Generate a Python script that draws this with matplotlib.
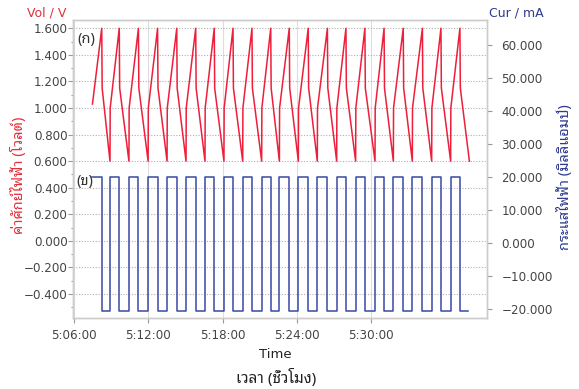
import matplotlib
matplotlib.use('Agg')
import matplotlib.pyplot as plt
from matplotlib import font_manager
from matplotlib.ft2font import FT2Font
from matplotlib.ticker import MultipleLocator, FixedLocator, FuncFormatter

# ---------------- data (seconds after 5:06:00) ----------------
t_start = 89
v_start = 1.03
peak_t = [134, 219, 312, 405, 498, 590, 680, 771, 863, 954,
          1044, 1136, 1229, 1319, 1411, 1504, 1597, 1690, 1780, 1872]
trough_t = [174, 266, 359, 451, 543, 635, 727, 818, 910, 996,
            1088, 1180, 1274, 1366, 1460, 1549, 1641, 1735, 1827, 1918]
v_max = 1.60
v_min = 0.60
v_after_drop = 1.15
v_after_jump = 1.00
i_charge = 19.9
i_discharge = -20.7
x_tick_t = [0, 360, 720, 1080, 1440]
base_h, base_m = 5, 6

# ---------------- Thai-capable font ----------------
def find_thai():
    found = []
    for f in font_manager.fontManager.ttflist:
        try:
            cmap = FT2Font(f.fname).get_charmap()
        except Exception:
            continue
        if 0x0E04 in cmap and 0x0E48 in cmap and 0x0E15 in cmap:
            if f.name not in found:
                found.append(f.name)
    pref = ['Noto Sans Thai Looped', 'Noto Sans Thai', 'Noto Sans Thai UI', 'IBM Plex Sans Thai Looped', 'IBM Plex Sans Thai']
    found.sort(key=lambda n: pref.index(n) if n in pref else 99)
    return found

thai = find_thai()
plt.rcParams['font.family'] = ['DejaVu Sans'] + thai
plt.rcParams['axes.unicode_minus'] = True
THAI_FAM = thai[:1] + ['DejaVu Sans']

RED = '#ee1f3b'
BLUE = '#3949a3'
RED_T = '#e2303c'
BLUE_T = '#2e3b8f'
GRAY = '#444444'
SPINE = '#cccccc'

W, H = 579, 389
fig = plt.figure(figsize=(W / 100, H / 100), dpi=100)
ax = fig.add_axes([73.3 / W, 1 - 318.3 / H, (486.7 - 73.3) / W, (318.3 - 20) / H])
ax2 = ax.twinx()

# voltage trace
vt = [t_start]
vv = [v_start]
n = len(peak_t)
for i in range(n):
    vt += [peak_t[i], peak_t[i] + 2, trough_t[i]]
    vv += [v_max, v_after_drop, v_min]
    if i < n - 1:
        vt += [trough_t[i] + 1]
        vv += [v_after_jump]
ax.plot(vt, vv, color=RED, lw=1.1, zorder=3)

# current trace
ct = [t_start]
cv = [i_charge]
for i in range(n):
    ct += [peak_t[i], peak_t[i]]
    cv += [i_charge, i_discharge]
    ct += [trough_t[i] - (5 if i == n - 1 else 0)]
    cv += [i_discharge]
    if i < n - 1:
        ct += [trough_t[i]]
        cv += [i_charge]
ax2.plot(ct, cv, color=BLUE, lw=1.1, zorder=3)

ax.set_xlim(-4, 2002)
ax.set_ylim(-0.583, 1.6625)
ax2.set_ylim(-22.82, 67.58)

ax.xaxis.set_major_locator(FixedLocator(x_tick_t))
def tfmt(x, pos):
    s = int(round(x))
    m = base_m + s // 60
    h = base_h + m // 60
    m = m % 60
    return f'{h}:{m:02d}:{s % 60:02d}'
ax.xaxis.set_major_formatter(FuncFormatter(tfmt))

def nfmt(v, p):
    if abs(v) < 1e-9:
        return '0.000'
    return f'{v:.3f}'.replace('-', '\u2212')

ax.yaxis.set_major_locator(MultipleLocator(0.2))
ax.yaxis.set_minor_locator(MultipleLocator(0.1))
ax.yaxis.set_major_formatter(FuncFormatter(nfmt))
ax2.yaxis.set_major_locator(MultipleLocator(10))
ax2.yaxis.set_major_formatter(FuncFormatter(nfmt))

ax.grid(axis='y', which='major', color='#b0b0b0', linestyle=(0, (1, 1.5)), lw=0.8)
ax.grid(axis='x', which='major', color='#dddddd', linestyle='-', lw=0.8)
ax.set_axisbelow(True)

for a in (ax, ax2):
    for s in a.spines.values():
        s.set_color(SPINE)
        s.set_linewidth(1.0)

ax.tick_params(axis='y', which='major', length=3.6, width=0.8, color='#999999', pad=0.5, labelsize=8.6, labelcolor=GRAY)
ax.tick_params(axis='y', which='minor', length=1.8, width=0.8, color='#999999')
ax.tick_params(axis='x', which='major', length=3.6, width=0.8, color='#999999', pad=4, labelsize=8.6, labelcolor=GRAY)
ax2.tick_params(axis='y', which='major', length=3.6, width=0.8, color='#999999', pad=7, labelsize=8.6, labelcolor=GRAY)

def ftext(x, y, s, **kw):
    fig.text(x / W, 1 - y / H, s, **kw)

ftext(47, 13, 'Vol / V', color=RED_T, fontsize=9, ha='center', va='center')
ftext(516, 13, 'Cur / mA', color=BLUE_T, fontsize=9, ha='center', va='center')
ftext(19, 175, 'ค่าศักย์ไฟฟ้า (โวลต์)', color=RED_T, fontsize=10.5, ha='center', va='center',
      rotation=90, family=THAI_FAM)
ftext(565, 177, 'กระแสไฟฟ้า (มิลลิแอมป์)', color=BLUE_T, fontsize=10.5, ha='center', va='center',
      rotation=90, family=THAI_FAM)
ftext(275.5, 355, 'Time', color='#222222', fontsize=9.5, ha='center', va='center')
ftext(276, 378, 'เวลา (ชั่วโมง)', color='#222222', fontsize=11, ha='center', va='center', family=THAI_FAM)
ftext(86.5, 39, '(ก)', color='#333333', fontsize=10.5, ha='center', va='center', family=THAI_FAM)
ftext(84.5, 182, '(ข)', color='#333333', fontsize=10.5, ha='center', va='center', family=THAI_FAM)

fig.savefig('out.png', dpi=100)
